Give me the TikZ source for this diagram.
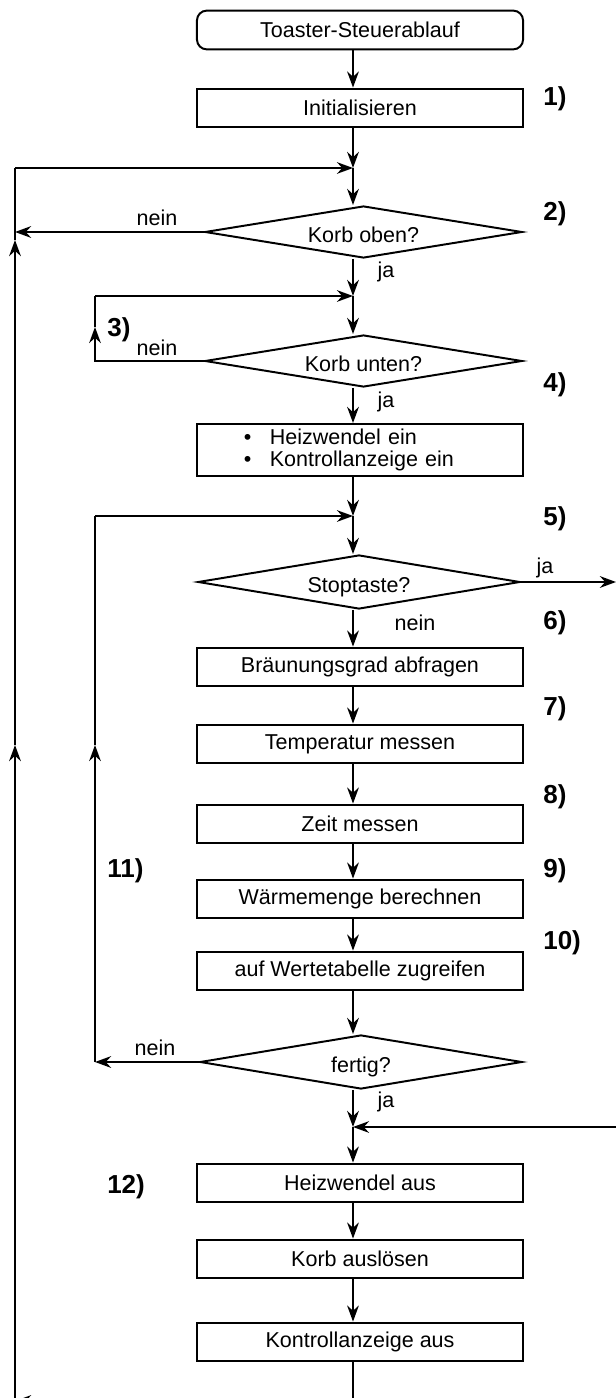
\documentclass[tikz,border=0pt]{standalone}
\usepackage{fontspec}
\setmainfont{Liberation Sans}
\usetikzlibrary{arrows.meta,calc,shapes.geometric}

\begin{document}
\begin{tikzpicture}[
  x=0.025cm, y=-0.025cm,
  >={Stealth[length=0.4cm,width=0.29cm,inset=0.13cm]},
  font=\fontsize{15.3}{16}\selectfont,
  stepbox/.style={draw, line width=1.4pt, minimum width=8.15cm, minimum height=0.97cm, inner sep=2pt},
  startbox/.style={stepbox, rounded corners=7pt},
  decision/.style={draw, diamond, aspect=6, line width=1.4pt, inner sep=0pt, text height=15pt, text depth=0pt,
    minimum width=8.05cm, minimum height=1.35cm},
  flow/.style={->, line width=2pt},
  back/.style={line width=1.5pt},
  backarrow/.style={back, ->},
  stepno/.style={font=\bfseries\fontsize{18.5}{20}\selectfont, anchor=west, inner sep=0pt},
  answer/.style={inner sep=0pt}
]
\useasboundingbox (0,0) rectangle (616,1398);

% main column
\coordinate (spine) at (353,0);
\node[startbox] (start) at (360,30) {Toaster-Steuerablauf};
\node[stepbox] (init) at (360,108) {Initialisieren};
\node[decision, minimum width=7.93cm, minimum height=1.3cm] (korboben) at (363.5,232) {Korb oben?};
\node[decision, minimum width=7.93cm, minimum height=1.3cm] (korbunten) at (363.5,361) {Korb unten?};
\node[stepbox, minimum height=1.3cm, text width=5.8cm, align=left] (heizein) at (360,450)
  {\textbullet\hspace{0.85em}Heizwendel ein\\\textbullet\hspace{0.85em}Kontrollanzeige ein};
\node[decision] (stop) at (359,582) {Stoptaste?};
\node[stepbox] (braeunung) at (360,667) {Bräunungsgrad abfragen};
\node[stepbox] (temperatur) at (360,744) {Temperatur messen};
\node[stepbox] (zeit) at (360,824) {Zeit messen};
\node[stepbox] (waerme) at (360,899) {Wärmemenge berechnen};
\node[stepbox] (tabelle) at (360,971) {auf Wertetabelle zugreifen};
\node[decision] (fertig) at (361,1062) {fertig?};
\node[stepbox] (heizaus) at (360,1183) {Heizwendel aus};
\node[stepbox] (korbaus) at (360,1259) {Korb auslösen};
\node[stepbox] (anzeigeaus) at (360,1342) {Kontrollanzeige aus};

% junctions and loose ends
\coordinate (j1) at (353,168);
\coordinate (j2) at (353,296);
\coordinate (j3) at (353,516);
\coordinate (j4) at (353,1127);
\coordinate (stopout) at (616,582);
\coordinate (fromright) at (616,1127);
\coordinate (bottom) at (353,1401);
\coordinate (outerbottom) at (15,1401);
\coordinate (outermid) at (15,745);
\coordinate (outertop) at (15,240);
\coordinate (outercorner) at (15,168);
\coordinate (outerleft) at (15,232);
\coordinate (innerleft) at (95,361);
\coordinate (innertip) at (95,327);
\coordinate (innercorner) at (95,296);
\coordinate (loopleft) at (95,1062);
\coordinate (loopmid) at (95,745);
\coordinate (loopcorner) at (95,516);

% step numbers
\node[stepno] (n1) at (543,99) {1)};
\node[stepno] (n2) at (543,214) {2)};
\node[stepno, anchor=center] (n3) at (119,330) {3)};
\node[stepno] (n4) at (543,385) {4)};
\node[stepno] (n5) at (543,519) {5)};
\node[stepno] (n6) at (543,623) {6)};
\node[stepno] (n7) at (543,709) {7)};
\node[stepno] (n8) at (543,797) {8)};
\node[stepno] (n9) at (543,871) {9)};
\node[stepno] (n10) at (543,943) {10)};
\node[stepno] (n11) at (107,871) {11)};
\node[stepno] (n12) at (107,1187) {12)};

% answers
\node[answer] (a1) at (157,218) {nein};
\node[answer] (a2) at (386,272) {ja};
\node[answer] (a3) at (157,348) {nein};
\node[answer] (a4) at (386,402) {ja};
\node[answer] (a5) at (545,568) {ja};
\node[answer] (a6) at (415,623) {nein};
\node[answer] (a7) at (155,1048) {nein};
\node[answer] (a8) at (386,1102) {ja};

% spine
\draw[flow] (start.south -| spine) -- (init.north -| spine);
\draw[flow] (init.south -| spine) -- (j1);
\draw[flow] (j1) -- (korboben.north -| spine);
\draw[flow] (korboben.south -| spine) -- (j2);
\draw[flow] (j2) -- (korbunten.north -| spine);
\draw[flow] (korbunten.south -| spine) -- (heizein.north -| spine);
\draw[flow] (heizein.south -| spine) -- (j3);
\draw[flow] (j3) -- (stop.north -| spine);
\draw[flow] (stop.south -| spine) -- (braeunung.north -| spine);
\draw[flow] (braeunung.south -| spine) -- (temperatur.north -| spine);
\draw[flow] (temperatur.south -| spine) -- (zeit.north -| spine);
\draw[flow] (zeit.south -| spine) -- (waerme.north -| spine);
\draw[flow] (waerme.south -| spine) -- (tabelle.north -| spine);
\draw[flow] (tabelle.south -| spine) -- (fertig.north -| spine);
\draw[flow] (fertig.south -| spine) -- (j4);
\draw[flow] (j4) -- (heizaus.north -| spine);
\draw[flow] (heizaus.south -| spine) -- (korbaus.north -| spine);
\draw[flow] (korbaus.south -| spine) -- (anzeigeaus.north -| spine);

% exits and returns
\draw[flow] (stop.east) -- (stopout);
\draw[backarrow] (fromright) -- (j4);
\draw[flow] (korboben.west) -- (outerleft);
\draw[backarrow] (korbunten.west) -- (innerleft) -- (innertip);
\draw[back] (innertip) -- (innercorner);
\draw[backarrow] (innercorner) -- (j2);
\draw[flow] (fertig.west) -- (loopleft);
\draw[backarrow] (loopleft) -- (loopmid);
\draw[back] (loopmid) -- (loopcorner);
\draw[backarrow] (loopcorner) -- (j3);
\draw[back] (anzeigeaus.south -| spine) -- (bottom);
\draw[flow] (bottom) -- (outerbottom);
\draw[flow] (outerbottom) -- (outermid);
\draw[flow] (outermid) -- (outertop);
\draw[back] (outertop) -- (outercorner);
\draw[backarrow] (outercorner) -- (j1);

\end{tikzpicture}
\end{document}
